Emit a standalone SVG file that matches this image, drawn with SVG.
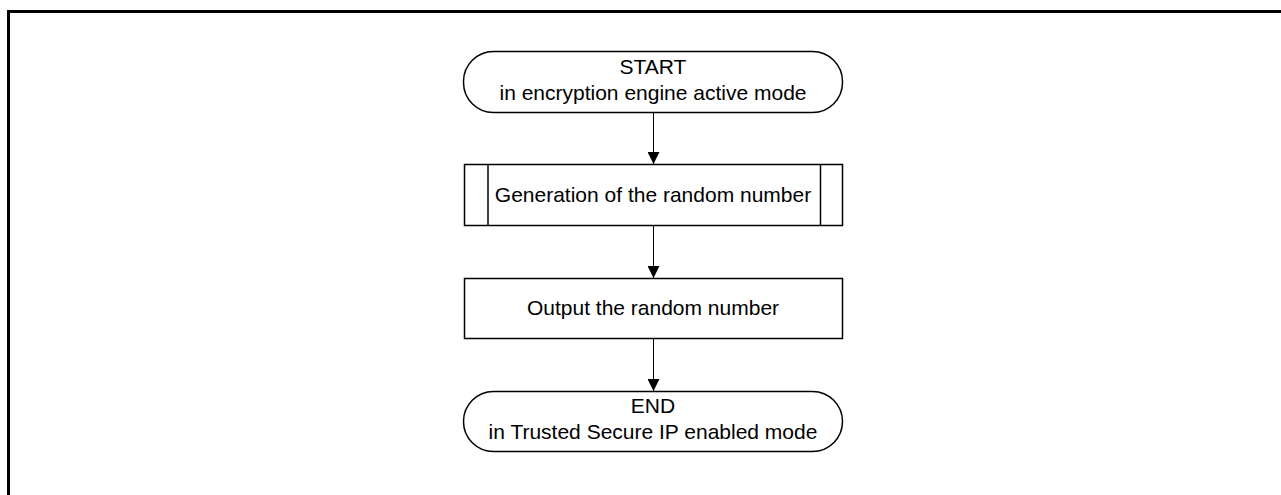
<svg xmlns="http://www.w3.org/2000/svg" width="1281" height="495" viewBox="0 0 1281 495">
<style>
.shape{fill:#fff;stroke:#000;stroke-width:1.5}
.t{font-family:"Liberation Sans",Arial,sans-serif;font-size:21px;fill:#000;text-anchor:middle}
.conn{stroke:#000;stroke-width:1;fill:none}
</style>
<defs>
<marker id="arr" viewBox="0 0 12 12" refX="12" refY="6" markerWidth="12" markerHeight="12" markerUnits="userSpaceOnUse" orient="auto">
<path d="M0,0 L12,6 L0,12 Z" fill="#000"/>
</marker>
</defs>
<rect width="1281" height="495" fill="#fff"/>
<path d="M8.5,495 V11.5 H1281" fill="none" stroke="#000" stroke-width="3"/>
<g id="start">
<rect class="shape" x="463.5" y="51.5" width="379" height="61" rx="30" ry="30"/>
<text class="t" x="653" y="74">START</text>
<text class="t" x="653" y="100">in encryption engine active mode</text>
</g>
<g id="generate">
<rect class="shape" x="464.5" y="164.5" width="378" height="61"/>
<line class="shape" x1="488" y1="164.5" x2="488" y2="225.5"/>
<line class="shape" x1="820.5" y1="164.5" x2="820.5" y2="225.5"/>
<text class="t" x="653" y="202">Generation of the random number</text>
</g>
<g id="output">
<rect class="shape" x="464.5" y="278.5" width="378" height="60"/>
<text class="t" x="653" y="315">Output the random number</text>
</g>
<g id="end">
<rect class="shape" x="463.5" y="391.5" width="379" height="60" rx="30" ry="30"/>
<text class="t" x="653" y="413">END</text>
<text class="t" x="653" y="439">in Trusted Secure IP enabled mode</text>
</g>
<g id="connectors">
<line class="conn" x1="653.5" y1="112.5" x2="653.5" y2="164" marker-end="url(#arr)"/>
<line class="conn" x1="653.5" y1="225.5" x2="653.5" y2="278" marker-end="url(#arr)"/>
<line class="conn" x1="653.5" y1="338.5" x2="653.5" y2="391" marker-end="url(#arr)"/>
</g>
</svg>
